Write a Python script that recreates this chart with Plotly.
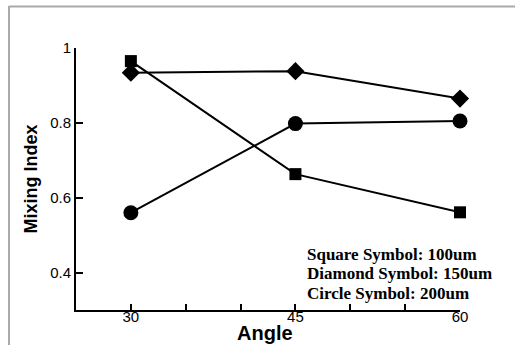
import plotly.graph_objects as go

angles = [30, 45, 60]
square_100um = [0.965, 0.663, 0.561]
diamond_150um = [0.934, 0.938, 0.865]
circle_200um = [0.560, 0.798, 0.805]
legend_lines = ["Square Symbol: 100um", "Diamond Symbol: 150um", "Circle Symbol: 200um"]

W, H = 515, 345
L, R, T, B = 76, 55, 48, 35
pw, ph = W - L - R, H - T - B

def px(x):
    return (x - L) / pw

def py(y):
    return (H - B - y) / ph

fig = go.Figure()
for ys, sym, sz in [(square_100um, "square", 12), (diamond_150um, "diamond", 14), (circle_200um, "circle", 15)]:
    fig.add_trace(go.Scatter(
        x=angles, y=ys, mode="lines+markers",
        line=dict(color="black", width=2),
        marker=dict(symbol=sym, size=sz, color="black"),
        showlegend=False, cliponaxis=False,
    ))

axis_font = dict(family="Liberation Sans, Arial", size=15, color="black")
fig.update_xaxes(
    range=[25, 60], tickvals=angles, ticks="inside", ticklen=6, tickwidth=1.5,
    tickcolor="black", showline=True, linecolor="black", linewidth=2,
    showgrid=False, zeroline=False, tickfont=axis_font, automargin=False,
    ticklabelstandoff=-8,
    minor=dict(tickvals=[35, 40, 50, 55], ticks="inside", ticklen=6, tickwidth=1.5, tickcolor="black", showgrid=False),
)
fig.update_yaxes(
    range=[0.3, 1.0], tickvals=[0.4, 0.6, 0.8, 1.0], ticktext=["0.4", "0.6", "0.8", "1"],
    ticks="inside", ticklen=7, tickwidth=1.5, tickcolor="black",
    showline=True, linecolor="black", linewidth=2, automargin=False,
    showgrid=False, zeroline=False, tickfont=axis_font,
    title=dict(text="<b>Mixing Index</b>", font=dict(family="Liberation Sans, Arial", size=18, color="black"), standoff=8),
)

# x-axis title
fig.add_annotation(
    x=px(265), y=py(333), xref="paper", yref="paper",
    xanchor="center", yanchor="middle", showarrow=False,
    text="<b>Angle</b>",
    font=dict(family="Liberation Sans, Arial", size=20, color="black"),
)

for i, txt in enumerate(legend_lines):
    fig.add_annotation(
        x=px(305), y=py(254 + 19.5 * i), xref="paper", yref="paper",
        xanchor="left", yanchor="middle", showarrow=False,
        text="<b>" + txt + "</b>",
        font=dict(family="Liberation Serif, Times New Roman", size=17, color="black"),
    )

# outer gray frame
fig.add_shape(type="line", xref="paper", yref="paper",
              x0=px(9), x1=px(9), y0=py(6), y1=py(346), line=dict(color="#aaaaaa", width=2))
fig.add_shape(type="line", xref="paper", yref="paper",
              x0=px(9), x1=px(515), y0=py(6.5), y1=py(6.5), line=dict(color="#aaaaaa", width=2))

fig.update_layout(
    width=W, height=H, margin=dict(l=L, r=R, t=T, b=B),
    paper_bgcolor="white", plot_bgcolor="white",
)
fig.write_html("out.html", config={"displayModeBar": False},
               post_script="document.body.style.margin='0';document.body.style.overflow='hidden';")
